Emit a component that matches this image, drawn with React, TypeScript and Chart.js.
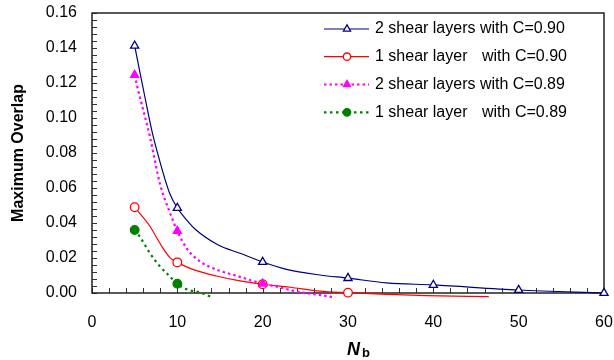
import React, { useEffect, useRef } from "react";
import { Chart, registerables } from "chart.js";
import { drawPoint } from "chart.js/helpers";

Chart.register(...registerables);

// ---- data ----
const twoShear090N = [5, 5.6, 6.2, 7.0, 7.8, 9.1, 10, 11.1, 12.1, 14.8, 17.35, 20, 22.8, 26.7, 30, 34.5, 40, 50, 60];
const twoShear090Y = [0.1413, 0.1265, 0.112, 0.0931, 0.0779, 0.057, 0.0486, 0.0417, 0.0364, 0.0274, 0.0227, 0.0177, 0.0135, 0.0103, 0.0085, 0.0058, 0.0046, 0.0017, 0.0];
const twoShear090Markers = [5, 10, 20, 30, 40, 50, 60];

const oneShear090N = [5, 5.6, 6.8, 8.2, 9.1, 10, 11.5, 14.6, 17.35, 20, 23.2, 26.7, 30, 33.8, 39.2, 46.5];
const oneShear090Y = [0.049, 0.0455, 0.038, 0.0265, 0.0204, 0.0175, 0.0141, 0.0097, 0.0069, 0.005, 0.0033, 0.0011, 0.0002, -0.0006, -0.0015, -0.0021];
const oneShear090Markers = [5, 10, 20, 30];

const twoShear089N = [5, 5.35, 6, 6.8, 8, 9.15, 10, 11.1, 12.7, 14.2, 17.3, 20, 20.9, 22.4, 24, 25.9, 27.5, 28.3];
const twoShear089Y = [0.1246, 0.117, 0.1046, 0.089, 0.0617, 0.0457, 0.0354, 0.0255, 0.0179, 0.0141, 0.0093, 0.0053, 0.0044, 0.0027, 0.0008, -0.0006, -0.0017, -0.0025];
const twoShear089Markers = [5, 10, 20];

const oneShear089N = [5, 5.6, 6.8, 8, 8.95, 10, 11.1, 12.7, 14.1];
const oneShear089Y = [0.036, 0.0322, 0.0227, 0.015, 0.0103, 0.0053, 0.0021, 0.0002, -0.0025];
const oneShear089Markers = [5, 10];

const seriesLabels = [
  "2 shear layers with C=0.90",
  "1 shear layer   with C=0.90",
  "2 shear layers with C=0.89",
  "1 shear layer   with C=0.89",
];

const xTicks = [0, 10, 20, 30, 40, 50, 60];
const yTicks = [0, 0.02, 0.04, 0.06, 0.08, 0.1, 0.12, 0.14, 0.16];

const FONT = "'Liberation Sans', Arial, sans-serif";

type Style = {
  color: string;
  fill: string;
  pointStyle: string;
  radius: number;
  dash: number[];
  width: number;
};

const styles: Style[] = [
  { color: "#000080", fill: "#ffffff", pointStyle: "triangle", radius: 4.7, dash: [], width: 1.2 },
  { color: "#ff0000", fill: "#ffffff", pointStyle: "circle", radius: 4.3, dash: [], width: 1.2 },
  { color: "#ff00ff", fill: "#ff00ff", pointStyle: "triangle", radius: 4.7, dash: [2.5, 3], width: 2.2 },
  { color: "#008000", fill: "#008000", pointStyle: "circle", radius: 4.3, dash: [2.5, 3.5], width: 2.2 },
];

function makeDataset(label: string, xs: number[], ys: number[], markers: number[], s: Style, order: number) {
  return {
    label,
    data: xs.map((x, i) => ({ x, y: ys[i] })),
    borderColor: s.color,
    backgroundColor: s.fill,
    borderWidth: s.width,
    borderDash: s.dash,
    pointStyle: s.pointStyle,
    pointBackgroundColor: s.fill,
    pointBorderColor: s.color,
    pointBorderWidth: 1.3,
    pointRadius: (ctx: any) => (ctx.raw && markers.includes(ctx.raw.x) ? s.radius : 0),
    pointHoverRadius: 0,
    cubicInterpolationMode: "monotone",
    capBezierPoints: false,
    clip: false,
    order,
  };
}

const decorPlugin = {
  id: "decor",
  beforeDatasetsDraw(chart: any) {
    const { ctx, chartArea: a, scales } = chart;
    const x = scales.x;
    const y = scales.y;
    ctx.save();
    // minor / major ticks inside the plot
    ctx.strokeStyle = "#333";
    ctx.lineWidth = 1;
    ctx.beginPath();
    for (let v = 0; v <= 60; v += 2) {
      const px = Math.round(x.getPixelForValue(v)) + 0.5;
      ctx.moveTo(px, a.bottom);
      ctx.lineTo(px, a.bottom - 5);
    }
    for (let i = 0; i <= 40; i++) {
      const py = Math.round(y.getPixelForValue(i * 0.004)) + 0.5;
      ctx.moveTo(a.left, py);
      ctx.lineTo(a.left + 5, py);
    }
    ctx.stroke();
    // frame
    ctx.strokeStyle = "#222";
    ctx.lineWidth = 1.5;
    ctx.strokeRect(a.left, a.top, a.right - a.left, a.bottom - a.top);
    ctx.restore();
  },
  afterDraw(chart: any) {
    const { ctx, chartArea: a } = chart;
    ctx.save();
    // Legend
    const rowY = [29, 56.7, 84.5, 112.3];
    ctx.font = `16px ${FONT}`;
    ctx.textBaseline = "middle";
    ctx.fillStyle = "#000";
    styles.forEach((s, i) => {
      const yy = rowY[i];
      ctx.save();
      ctx.strokeStyle = s.color;
      ctx.lineWidth = s.width;
      ctx.setLineDash(s.dash);
      ctx.beginPath();
      ctx.moveTo(324, yy);
      ctx.lineTo(369, yy);
      ctx.stroke();
      ctx.setLineDash([]);
      ctx.fillStyle = s.fill;
      ctx.strokeStyle = s.color;
      ctx.lineWidth = 1.3;
      drawPoint(ctx, { pointStyle: s.pointStyle, rotation: 0, borderWidth: 1.3, radius: s.radius - 0.6 } as any, 347, yy);
      ctx.restore();
      const label = seriesLabels[i];
      const parts = label.split(/\s{2,}/);
      if (parts.length === 2) {
        ctx.fillText(parts[0], 375, yy);
        ctx.fillText(parts[1], 482, yy);
      } else {
        ctx.fillText(label, 375, yy);
      }
    });

    // Y axis title
    ctx.save();
    ctx.translate(19, (a.top + a.bottom) / 2);
    ctx.rotate(-Math.PI / 2);
    ctx.font = `bold 16px ${FONT}`;
    ctx.textAlign = "center";
    ctx.textBaseline = "middle";
    ctx.fillText("Maximum Overlap", 0, 0);
    ctx.restore();

    // X axis title: N_b
    ctx.font = `italic bold 18px ${FONT}`;
    ctx.textBaseline = "alphabetic";
    ctx.textAlign = "left";
    const nx = (a.left + a.right) / 2 - 1;
    ctx.fillText("N", nx, 355);
    const nw = ctx.measureText("N").width;
    ctx.font = `bold 13px ${FONT}`;
    ctx.fillText("b", nx + nw + 2, 357);
    ctx.restore();
  },
};

export default function App() {
  const ref = useRef<HTMLCanvasElement | null>(null);
  useEffect(() => {
    document.body.style.margin = "0";
    if (!ref.current) return;
    const chart = new Chart(ref.current, {
      type: "line",
      data: {
        datasets: [
          makeDataset(seriesLabels[0], twoShear090N, twoShear090Y, twoShear090Markers, styles[0], 1),
          makeDataset(seriesLabels[1], oneShear090N, oneShear090Y, oneShear090Markers, styles[1], 2),
          makeDataset(seriesLabels[2], twoShear089N, twoShear089Y, twoShear089Markers, styles[2], 0),
          makeDataset(seriesLabels[3], oneShear089N, oneShear089Y, oneShear089Markers, styles[3], 3),
        ] as any,
      },
      options: {
        animation: false,
        responsive: false,
        maintainAspectRatio: false,
        events: [],
        layout: { padding: { top: 13, right: 10, left: 0, bottom: 0 } },
        plugins: {
          legend: { display: false },
          tooltip: { enabled: false },
          title: { display: false },
        },
        scales: {
          x: {
            type: "linear",
            min: 0,
            max: 60,
            afterFit: (s: any) => {
              s.height = 67;
              s.paddingLeft = 0;
              s.paddingRight = 0;
              s.paddingTop = 0;
              s.paddingBottom = 0;
            },
            afterBuildTicks: (s: any) => {
              s.ticks = xTicks.map((v) => ({ value: v }));
            },
            grid: { display: false, drawTicks: false },
            border: { display: false },
            ticks: {
              padding: 20,
              color: "#000",
              font: { family: FONT, size: 16 },
              maxRotation: 0,
              callback: (v: any) => String(v),
            },
          },
          y: {
            type: "linear",
            min: 0,
            max: 0.16,
            afterFit: (s: any) => {
              s.width = 92;
              s.paddingLeft = 0;
              s.paddingRight = 0;
              s.paddingTop = 0;
              s.paddingBottom = 0;
            },
            afterBuildTicks: (s: any) => {
              s.ticks = yTicks.map((v) => ({ value: v }));
            },
            grid: { display: false, drawTicks: false },
            border: { display: false },
            ticks: {
              padding: 15,
              color: "#000",
              font: { family: FONT, size: 16 },
              callback: (v: any) => Number(v).toFixed(2),
            },
          },
        },
      },
      plugins: [decorPlugin],
    });
    return () => chart.destroy();
  }, []);
  return (
    <div style={{ width: 614, height: 360, background: "#fff" }}>
      <canvas ref={ref} width={614} height={360} style={{ display: "block" }} />
    </div>
  );
}
